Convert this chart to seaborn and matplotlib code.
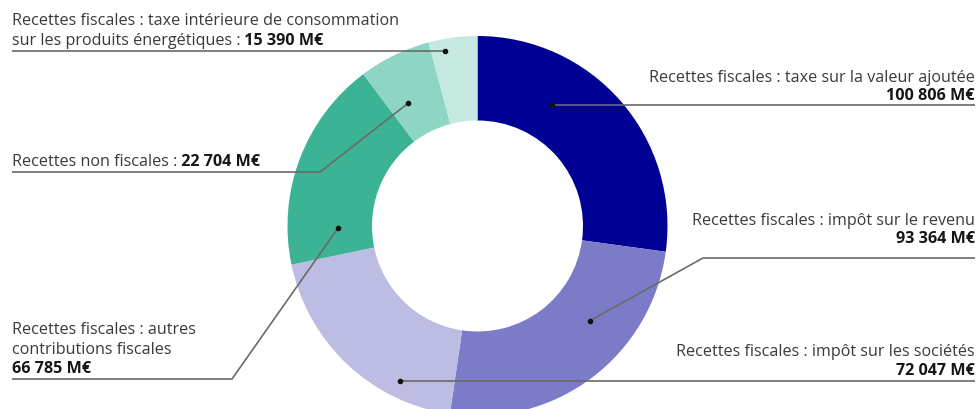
import numpy as np
import matplotlib.pyplot as plt
import seaborn as sns

# ---- données (M€) ----
categories = [
    "Recettes fiscales : taxe sur la valeur ajoutée",
    "Recettes fiscales : impôt sur le revenu",
    "Recettes fiscales : impôt sur les sociétés",
    "Recettes fiscales : autres contributions fiscales",
    "Recettes non fiscales",
    "Recettes fiscales : taxe intérieure de consommation sur les produits énergétiques",
]
valeurs = [100806, 93364, 72047, 66785, 22704, 15390]
montants = ["100 806 M€", "93 364 M€", "72 047 M€", "66 785 M€", "22 704 M€", "15 390 M€"]
couleurs = ["#000094", "#7b7bc8", "#bdbde3", "#3bb394", "#8ed5c3", "#c5e9e0"]

sns.set_theme(style="white")
plt.rcParams["font.family"] = ["Open Sans", "DejaVu Sans"]

W, H = 979, 410
fig = plt.figure(figsize=(W / 100, H / 100), dpi=100)
ax = fig.add_axes([0, 0, 1, 1])

# donut : axe y inversé -> départ en haut, sens horaire
cx, cy, R, r_in = 477.5, 227, 190, 105.5
wedges, _ = ax.pie(valeurs, colors=couleurs, startangle=-90, counterclock=True,
                   center=(cx, cy), radius=R,
                   wedgeprops=dict(width=R - r_in, linewidth=0))
ax.set_xlim(0, W)
ax.set_ylim(H, 0)
ax.set_aspect("equal")
ax.axis("off")

# points d'ancrage (fraction angulaire dans la part, rayon)
ancrages = [(0.322, 142), (0.357, 147), (0.26, 173), (0.168, 139.5), (0.336, 141), (0.295, 178)]
points = []
for w, (f, rr) in zip(wedges, ancrages):
    a = np.deg2rad(w.theta1 + f * (w.theta2 - w.theta1))
    points.append((cx + rr * np.cos(a), cy + rr * np.sin(a)))

txt = "#3a3a3a"
bold = "#161616"
fs = 11.6
lc = "#6a6a6a"
lw = 1.2

def leader(xs, ys):
    ax.plot(xs, ys, color=lc, lw=lw, solid_capstyle="butt", zorder=3)
    ax.plot(xs[-1], ys[-1], "o", color="#111111", ms=3, zorder=4)

# TVA
x0, y0 = points[0]
ax.text(975, 78, "Recettes fiscales : taxe sur la valeur ajoutée", ha="right", va="center", fontsize=fs, color=txt)
ax.text(975, 96, montants[0], ha="right", va="center", fontsize=fs, color=bold, weight="bold")
leader([975, x0], [y0, y0])

# IR
x0, y0 = points[1]
ax.text(975, 221, "Recettes fiscales : impôt sur le revenu", ha="right", va="center", fontsize=fs, color=txt)
ax.text(975, 239, montants[1], ha="right", va="center", fontsize=fs, color=bold, weight="bold")
leader([975, 703, x0], [259, 259, y0])

# IS
x0, y0 = points[2]
ax.text(975, 352, "Recettes fiscales : impôt sur les sociétés", ha="right", va="center", fontsize=fs, color=txt)
ax.text(975, 371, montants[2], ha="right", va="center", fontsize=fs, color=bold, weight="bold")
leader([975, x0], [y0, y0])

# autres contributions
x0, y0 = points[3]
ax.text(12, 330, "Recettes fiscales : autres", ha="left", va="center", fontsize=fs, color=txt)
ax.text(12, 350, "contributions fiscales", ha="left", va="center", fontsize=fs, color=txt)
ax.text(12, 369, montants[3], ha="left", va="center", fontsize=fs, color=bold, weight="bold")
leader([12, 232, x0], [380, 380, y0])

# non fiscales
x0, y0 = points[4]
t = ax.text(12, 162, "Recettes non fiscales :", ha="left", va="center", fontsize=fs, color=txt)
ax.annotate(" " + montants[4], xy=(1, 0.5), xycoords=t, ha="left", va="center",
            fontsize=fs, color=bold, weight="bold")
leader([12, 320, x0], [173, 173, y0])

# TICPE
x0, y0 = points[5]
ax.text(12, 21, "Recettes fiscales : taxe intérieure de consommation", ha="left", va="center", fontsize=fs, color=txt)
t = ax.text(12, 41, "sur les produits énergétiques :", ha="left", va="center", fontsize=fs, color=txt)
ax.annotate(" " + montants[5], xy=(1, 0.5), xycoords=t, ha="left", va="center",
            fontsize=fs, color=bold, weight="bold")
leader([12, x0], [y0, y0])

fig.savefig("out.png", dpi=100)
